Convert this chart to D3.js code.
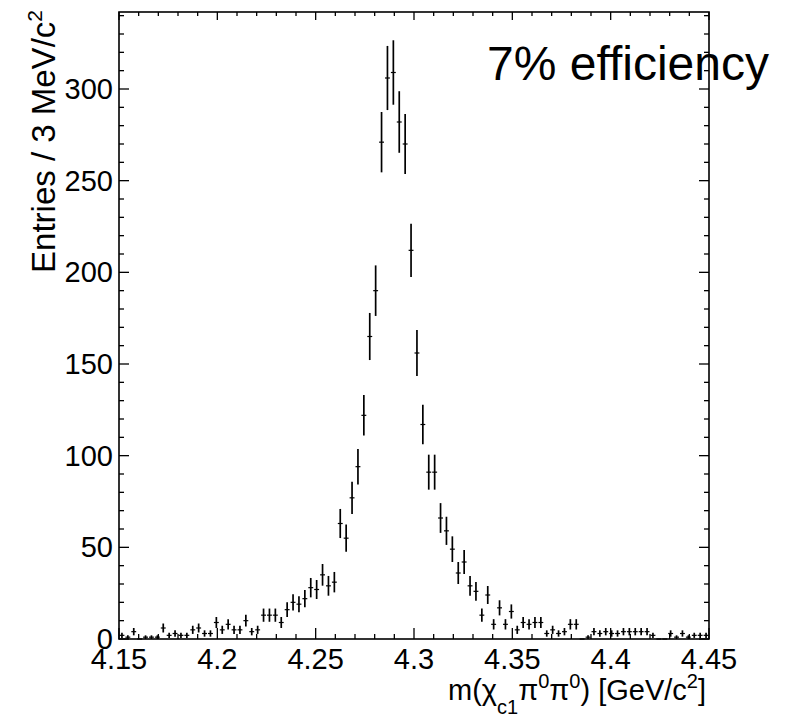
<!DOCTYPE html>
<html>
<head>
<meta charset="utf-8">
<script src="https://cdn.jsdelivr.net/npm/d3@7"></script>
<style>
  body { margin: 0; background: #fff; }
  text { font-family: "Liberation Sans", Arial, Helvetica, sans-serif; fill: #000; }
</style>
</head>
<body>
<svg width="803" height="718"></svg>
<script>
// histogram: 100 bins of 3 MeV from 4.15 to 4.45 GeV
var xMin = 4.15, xMax = 4.45, binWidth = 0.003;
var counts = [
  2, 1, 4, 0, 1, 1, 1, 6, 2, 3,
  2, 2, 5, 6, 3, 3, 9, 5, 8, 5,
  5, 10, 4, 5, 13, 13, 13, 9, 16, 20,
  19, 22, 28, 27, 35, 29, 31, 63, 55, 77,
  94, 122, 165, 190, 271, 306, 309, 282, 270, 212,
  156, 117, 91, 91, 66, 59, 49, 36, 42, 29,
  26, 13, 24, 8, 17, 8, 15, 5, 9, 8,
  9, 9, 3, 5, 3, 4, 8, 8, 0, 1,
  4, 3, 4, 3, 3, 4, 4, 4, 4, 4,
  2, 0, 0, 3, 1, 3, 1, 2, 2, 2
];
var xTickLabels = ["4.15", "4.2", "4.25", "4.3", "4.35", "4.4", "4.45"];
var yTickLabels = ["0", "50", "100", "150", "200", "250", "300"];
var yMax = 342;

var svg = d3.select("svg"),
    width = +svg.attr("width"),
    height = +svg.attr("height");

var pLeft = 119, pRight = 709, pTop = 12, pBottom = 639;

var x = d3.scaleLinear().domain([xMin, xMax]).range([pLeft, pRight]);
var y = d3.scaleLinear().domain([0, yMax]).range([pBottom, pTop]);

var bins = counts.map(function(c, i) {
  return { x0: xMin + i * binWidth, x1: xMin + (i + 1) * binWidth, n: c, err: Math.sqrt(c) };
});

svg.append("rect").attr("width", width).attr("height", height).attr("fill", "#fff");

// ticks (inside the frame, on all four sides)
var xMajor = d3.range(0, 7).map(function(i) { return xMin + i * 0.05; });
var xMinor = d3.range(0, 31).map(function(i) { return xMin + i * 0.01; });
var yMajor = d3.range(0, 7).map(function(i) { return i * 50; });
var yMinor = d3.range(0, 35).map(function(i) { return i * 10; });

var ticks = svg.append("g").attr("stroke", "#000").attr("stroke-width", 1.3);
function isMajorX(i) { return i % 5 === 0; }
xMinor.forEach(function(v, i) {
  var len = isMajorX(i) ? 11 : 5;
  ticks.append("line").attr("x1", x(v)).attr("x2", x(v)).attr("y1", pBottom).attr("y2", pBottom - len);
  ticks.append("line").attr("x1", x(v)).attr("x2", x(v)).attr("y1", pTop).attr("y2", pTop + (isMajorX(i) ? 8 : 4));
});
yMinor.forEach(function(v) {
  var len = v % 50 === 0 ? 10 : 5;
  ticks.append("line").attr("x1", pLeft).attr("x2", pLeft + len).attr("y1", y(v)).attr("y2", y(v));
  ticks.append("line").attr("x1", pRight).attr("x2", pRight - len).attr("y1", y(v)).attr("y2", y(v));
});

// data points with sqrt(N) errors
var pts = svg.append("g").attr("stroke", "#000");
pts.selectAll("line.h").data(bins).enter().append("line")
  .attr("class", "h")
  .attr("stroke-width", 1.2)
  .attr("x1", function(d) { return x(d.x0) + 0.5; })
  .attr("x2", function(d) { return x(d.x1) - 0.5; })
  .attr("y1", function(d) { return y(d.n); })
  .attr("y2", function(d) { return y(d.n); });
pts.selectAll("line.v").data(bins.filter(function(d) { return d.n > 0; })).enter().append("line")
  .attr("class", "v")
  .attr("stroke-width", 1.7)
  .attr("x1", function(d) { return x((d.x0 + d.x1) / 2); })
  .attr("x2", function(d) { return x((d.x0 + d.x1) / 2); })
  .attr("y1", function(d) { return y(d.n - d.err); })
  .attr("y2", function(d) { return y(d.n + d.err); });

// frame
svg.append("rect")
  .attr("x", pLeft).attr("y", pTop)
  .attr("width", pRight - pLeft).attr("height", pBottom - pTop)
  .attr("fill", "none").attr("stroke", "#000").attr("stroke-width", 1.6);

// tick labels
svg.append("g").selectAll("text").data(xMajor).enter().append("text")
  .attr("x", function(d) { return x(d); })
  .attr("y", 669)
  .attr("text-anchor", "middle")
  .attr("font-size", 29)
  .text(function(d, i) { return xTickLabels[i]; });

svg.append("g").selectAll("text").data(yMajor).enter().append("text")
  .attr("x", 113)
  .attr("y", function(d) { return y(d) + 10; })
  .attr("text-anchor", "end")
  .attr("font-size", 29)
  .text(function(d, i) { return yTickLabels[i]; });

// axis titles
var yt = svg.append("text")
  .attr("transform", "translate(55,10) rotate(-90)")
  .attr("text-anchor", "end")
  .attr("font-size", 33);
yt.append("tspan").text("Entries / 3 MeV/c");
yt.append("tspan").attr("font-size", 21).attr("dy", -13).text("2");

var xt = svg.append("text")
  .attr("x", 706).attr("y", 700)
  .attr("text-anchor", "end")
  .attr("font-size", 29);
xt.append("tspan").text("m(\u03c7");
xt.append("tspan").attr("font-size", 20).attr("dy", 14).text("c1");
xt.append("tspan").attr("dy", -14).text("\u03c0");
xt.append("tspan").attr("font-size", 20).attr("dy", -12).text("0");
xt.append("tspan").attr("dy", 12).text("\u03c0");
xt.append("tspan").attr("font-size", 20).attr("dy", -12).text("0");
xt.append("tspan").attr("dy", 12).text(") [GeV/c");
xt.append("tspan").attr("font-size", 20).attr("dy", -12).text("2");
xt.append("tspan").attr("dy", 12).text("]");

svg.append("text")
  .attr("x", 487).attr("y", 80)
  .attr("font-size", 48)
  .text("7% efficiency");
</script>
</body>
</html>
